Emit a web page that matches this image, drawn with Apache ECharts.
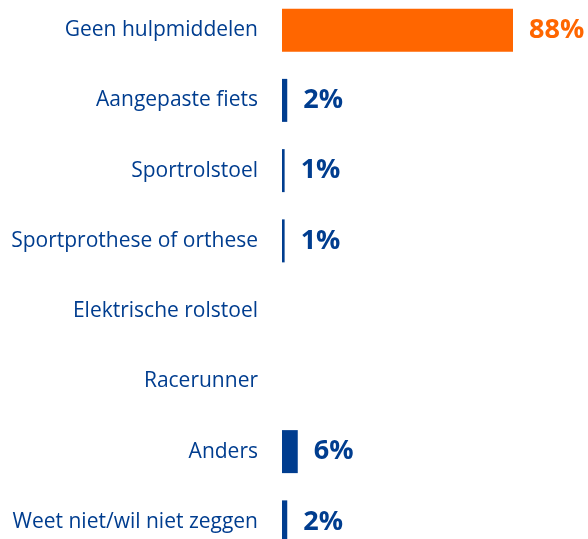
<!DOCTYPE html>
<html>
<head>
<meta charset="utf-8">
<script src="https://cdn.jsdelivr.net/npm/echarts@6/dist/echarts.min.js"></script>
<style>
  html, body { margin: 0; padding: 0; background: #fff; overflow: hidden; }
  #wrap { position: relative; width: 588px; height: 539px; overflow: hidden; }
  #chart { position: absolute; left: 0; top: -5px; width: 588px; height: 562px; }
</style>
</head>
<body>
<div id="wrap"><div id="chart"></div></div>
<script>
const categories = [
  'Geen hulpmiddelen',
  'Aangepaste fiets',
  'Sportrolstoel',
  'Sportprothese of orthese',
  'Elektrische rolstoel',
  'Racerunner',
  'Anders',
  'Weet niet/wil niet zeggen'
]
const values = [88, 2, 1, 1, 0, 0, 6, 2]

const blue = '#003d8f'
const orange = '#ff6600'

const chart = echarts.init(document.getElementById('chart'))

chart.setOption({
  animation: false,
  grid: { left: 282, right: 43.5, top: 0, bottom: 0, containLabel: false },
  xAxis: {
    type: 'value',
    min: 0,
    max: 100,
    show: false
  },
  yAxis: {
    type: 'category',
    inverse: true,
    data: categories,
    axisLine: { show: false },
    axisTick: { show: false },
    axisLabel: {
      margin: 24,
      color: blue,
      fontSize: 21,
      fontFamily: 'Open Sans'
    }
  },
  series: [{
    type: 'bar',
    barWidth: 43,
    data: values.map((v, i) => ({
      value: v,
      itemStyle: { color: i === 0 ? orange : blue },
      label: { color: i === 0 ? orange : blue }
    })),
    label: {
      show: true,
      position: 'right',
      distance: 16,
      fontSize: 27,
      fontWeight: 'bold',
      fontFamily: 'Open Sans',
      formatter: p => (p.value ? p.value + '%' : '')
    }
  }]
})
</script>
</body>
</html>
